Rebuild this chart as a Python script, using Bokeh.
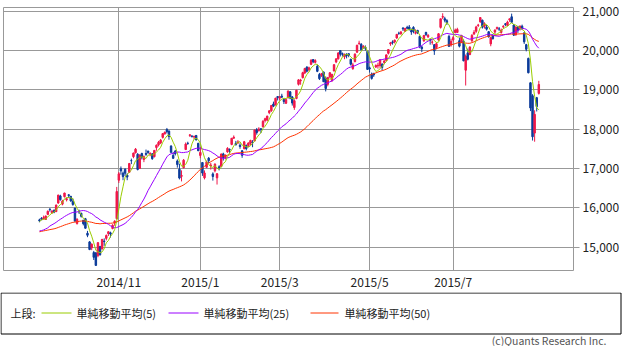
import numpy as np
import pandas as pd
from bokeh.plotting import figure
from bokeh.layouts import column, row
from bokeh.models import Range1d, FixedTicker, NumeralTickFormatter, ColumnDataSource
from bokeh.embed import file_html
from bokeh.resources import INLINE
from bokeh.core.properties import value

# ---------------- data: daily (open, high, low, close) ----------------
sep_2014 = [
    (15690, 15720, 15630, 15668), (15730, 15760, 15680, 15705), (15720, 15800, 15700, 15749),
    (15700, 15800, 15690, 15788), (15830, 15930, 15820, 15909), (15960, 15990, 15900, 15948),
    (15870, 15940, 15850, 15911), (15930, 15960, 15860, 15888), (15900, 16080, 15890, 16067),
    (16120, 16330, 16100, 16321), (16300, 16330, 16180, 16205), (16090, 16200, 16060, 16167),
    (16280, 16380, 16260, 16374), (16200, 16260, 16160, 16229), (16330, 16340, 16250, 16310),
    (16290, 16300, 16150, 16173),
]
oct_2014 = [
    (16160, 16230, 16050, 16082), (15990, 16000, 15640, 15661), (15600, 15730, 15570, 15708),
    (15900, 15950, 15840, 15890), (15860, 15870, 15750, 15783), (15680, 15690, 15550, 15595),
    (15720, 15740, 15470, 15478), (15350, 15410, 15250, 15300), (15130, 15150, 14920, 14936),
    (14980, 15090, 14920, 15073), (14860, 14900, 14670, 14738), (14850, 14870, 14530, 14532),
    (14780, 15120, 14740, 15111), (15010, 15030, 14780, 14804), (14950, 15200, 14940, 15195),
    (15150, 15220, 15030, 15138), (15220, 15320, 15170, 15291), (15340, 15400, 15280, 15388),
    (15360, 15390, 15240, 15329), (15470, 15580, 15450, 15553), (15610, 15680, 15540, 15658),
    (15720, 16530, 15700, 16413),
]
nov_2014 = [
    (16700, 16910, 16630, 16862), (16990, 17050, 16840, 16937), (16880, 16920, 16700, 16792),
    (16980, 17000, 16810, 16880), (16830, 16880, 16700, 16780), (16900, 17140, 16890, 17124),
    (17200, 17250, 17110, 17197), (17300, 17400, 17260, 17392), (17400, 17520, 17380, 17490),
    (17360, 17390, 16950, 16973), (17000, 17350, 16990, 17344), (17380, 17400, 17230, 17288),
    (17230, 17330, 17160, 17300), (17380, 17480, 17320, 17357), (17440, 17450, 17370, 17407),
    (17370, 17410, 17310, 17383), (17370, 17390, 17220, 17248), (17300, 17470, 17280, 17459),
]
dec_2014 = [
    (17530, 17610, 17450, 17590), (17600, 17700, 17560, 17663), (17650, 17750, 17620, 17720),
    (17790, 17900, 17760, 17887), (17880, 17940, 17860, 17920), (17990, 18030, 17890, 17935),
    (17950, 17970, 17730, 17813), (17570, 17590, 17390, 17412), (17330, 17420, 17250, 17257),
    (17440, 17470, 17330, 17371), (17190, 17230, 17020, 17099), (16980, 17120, 16720, 16755),
    (16800, 16950, 16670, 16819), (17020, 17240, 17000, 17210), (17480, 17660, 17470, 17621),
    (17640, 17680, 17600, 17635), (17840, 17870, 17800, 17854), (17820, 17850, 17790, 17808),
    (17800, 17830, 17750, 17818), (17840, 17850, 17710, 17729), (17640, 17650, 17440, 17451),
]
jan_2015 = [
    (17330, 17540, 17260, 17408), (17150, 17150, 16810, 16883), (16760, 16950, 16720, 16885),
    (17030, 17200, 17010, 17167), (17260, 17290, 17130, 17197), (17070, 17140, 16970, 17087),
    (16860, 16900, 16690, 16795), (16940, 17130, 16900, 17108), (16760, 16880, 16590, 16864),
    (17040, 17080, 16950, 17014), (17050, 17380, 17040, 17366), (17370, 17400, 17200, 17280),
    (17270, 17360, 17230, 17329), (17420, 17540, 17400, 17511), (17480, 17510, 17380, 17468),
    (17610, 17770, 17590, 17768), (17770, 17840, 17760, 17795), (17640, 17700, 17580, 17606),
    (17650, 17720, 17620, 17674),
]
feb_2015 = [
    (17590, 17640, 17500, 17558), (17450, 17460, 17270, 17335), (17500, 17700, 17490, 17678),
    (17580, 17610, 17460, 17504), (17580, 17660, 17540, 17648), (17640, 17730, 17590, 17711),
    (17660, 17720, 17540, 17652), (17700, 17990, 17690, 17979), (17990, 18030, 17860, 17913),
    (17960, 18050, 17940, 18004), (18010, 18020, 17900, 17987), (18060, 18230, 18040, 18199),
    (18220, 18290, 18170, 18264), (18230, 18340, 18200, 18332), (18420, 18480, 18380, 18466),
    (18470, 18610, 18440, 18603), (18640, 18700, 18560, 18585), (18620, 18800, 18600, 18785),
    (18830, 18840, 18730, 18797),
]
mar_2015 = [
    (18790, 18840, 18740, 18826), (18840, 18900, 18790, 18815), (18750, 18790, 18640, 18703),
    (18660, 18780, 18640, 18751), (18800, 18980, 18780, 18971), (18950, 18970, 18760, 18790),
    (18820, 18840, 18600, 18665), (18550, 18760, 18490, 18723), (18780, 19000, 18760, 18991),
    (19140, 19270, 19110, 19254), (19230, 19280, 19130, 19246), (19310, 19460, 19290, 19437),
    (19430, 19560, 19400, 19544), (19580, 19600, 19440, 19476), (19510, 19590, 19470, 19560),
    (19650, 19780, 19630, 19754), (19770, 19780, 19680, 19713), (19700, 19780, 19670, 19746),
    (19600, 19640, 19450, 19471), (19390, 19430, 19250, 19285), (19370, 19430, 19330, 19411),
    (19450, 19470, 19200, 19206),
]
apr_2015 = [
    (19300, 19340, 18960, 19034), (19140, 19330, 19090, 19312), (19330, 19450, 19300, 19435),
    (19240, 19400, 19200, 19397), (19480, 19650, 19470, 19640), (19710, 19800, 19680, 19789),
    (19790, 19960, 19770, 19937), (20000, 20010, 19850, 19907), (19920, 19950, 19850, 19905),
    (19840, 19920, 19780, 19908), (19910, 19930, 19800, 19869), (19920, 19930, 19830, 19885),
    (19780, 19790, 19620, 19652), (19540, 19690, 19510, 19634), (19720, 19930, 19700, 19909),
    (19960, 20150, 19940, 20133), (20180, 20250, 20140, 20187), (20160, 20190, 20000, 20020),
    (20080, 20140, 20040, 20107), (20080, 20130, 20000, 20058), (19980, 19990, 19510, 19520),
]
may_2015 = [
    (19560, 19590, 19440, 19531), (19400, 19440, 19260, 19291), (19420, 19430, 19330, 19379),
    (19580, 19650, 19560, 19620), (19610, 19690, 19540, 19624), (19620, 19780, 19560, 19764),
    (19650, 19680, 19500, 19570), (19700, 19770, 19650, 19732), (19750, 19900, 19730, 19890),
    (19930, 20040, 19900, 20026), (20170, 20220, 20120, 20196), (20220, 20260, 20150, 20202),
    (20220, 20280, 20180, 20264), (20320, 20420, 20300, 20413), (20440, 20480, 20400, 20437),
    (20430, 20500, 20400, 20472), (20570, 20600, 20500, 20551), (20490, 20580, 20480, 20563),
]
jun_2015 = [
    (20590, 20630, 20540, 20569), (20600, 20650, 20510, 20543), (20510, 20560, 20400, 20473),
    (20590, 20620, 20440, 20488), (20440, 20540, 20410, 20460), (20510, 20530, 20420, 20457),
    (20360, 20380, 20060, 20096), (20090, 20120, 19960, 20046), (20250, 20400, 20220, 20382),
    (20460, 20480, 20370, 20407), (20350, 20420, 20320, 20387), (20290, 20300, 20150, 20257),
    (20210, 20260, 20150, 20219), (20150, 20160, 19890, 19990), (20080, 20210, 20030, 20174),
    (20270, 20440, 20250, 20428), (20590, 20810, 20560, 20809), (20850, 20950, 20800, 20868),
    (20810, 20860, 20720, 20771), (20760, 20800, 20650, 20706), (20360, 20400, 20090, 20109),
    (20140, 20300, 20100, 20235),
]
jul_2015 = [
    (20270, 20370, 20230, 20329), (20460, 20560, 20440, 20522), (20460, 20580, 20450, 20539),
    (20250, 20330, 20080, 20112), (20220, 20400, 20190, 20376), (20230, 20280, 19730, 19737),
    (19500, 19900, 19110, 19855), (19940, 20050, 19750, 19779), (19900, 20110, 19880, 20089),
    (20250, 20420, 20220, 20385), (20420, 20520, 20400, 20463), (20490, 20630, 20450, 20600),
    (20640, 20680, 20600, 20650), (20730, 20850, 20710, 20841), (20770, 20790, 20560, 20593),
    (20620, 20720, 20560, 20683), (20600, 20650, 20510, 20544), (20480, 20490, 20330, 20350),
    (20170, 20340, 20110, 20328), (20380, 20420, 20280, 20302), (20470, 20540, 20410, 20522),
    (20560, 20610, 20530, 20585),
]
aug_2015 = [
    (20550, 20600, 20500, 20548), (20460, 20560, 20430, 20520), (20600, 20650, 20560, 20614),
    (20680, 20700, 20620, 20664), (20640, 20760, 20630, 20724), (20780, 20810, 20730, 20808),
    (20860, 20940, 20700, 20720), (20650, 20680, 20370, 20392), (20400, 20620, 20380, 20595),
    (20600, 20630, 20450, 20519), (20560, 20640, 20510, 20620), (20620, 20660, 20530, 20554),
    (20450, 20470, 20170, 20222), (20150, 20170, 19980, 20033), (19800, 19820, 19420, 19435),
    (19180, 19190, 18460, 18540), (18850, 18890, 17710, 17806), (17900, 18480, 17680, 18376),
    (18800, 18820, 18450, 18574), (18910, 19230, 18880, 19136),
]
# closes before the first visible day (needed by the moving averages)
pre_close = [
    15095, 15162,
    15326, 15369, 15348, 15437, 15379, 15314, 15302, 15216, 15164, 15297, 15395,
    15379, 15370, 15215, 15343, 15328, 15284, 15457, 15529, 15618, 15646, 15621,
    15523, 15474, 15320, 15160, 15232, 14778, 15130, 15161, 15213, 15314, 15318,
    15322, 15450, 15454, 15586, 15539, 15613, 15521, 15535, 15460, 15425,
    15476, 15669, 15729, 15677,
]
month_labels = ["2014/9", "2014/10", "2014/11", "2014/12", "2015/1", "2015/2",
                "2015/3", "2015/4", "2015/5", "2015/6", "2015/7", "2015/8"]
month_blocks = [sep_2014, oct_2014, nov_2014, dec_2014, jan_2015, feb_2015,
                mar_2015, apr_2015, may_2015, jun_2015, jul_2015, aug_2015]
tick_months = ["2014/11", "2015/1", "2015/3", "2015/5", "2015/7"]
tick_texts = ["2014/11", "2015/1", "2015/3", "2015/5", "2015/7"]
y_ticks = [15000, 16000, 17000, 18000, 19000, 20000, 21000]
ma_periods = [5, 25, 50]
ma_names = ["単純移動平均(5)", "単純移動平均(25)", "単純移動平均(50)"]
legend_head = "上段:"
copyright_text = "(c)Quants Research Inc."

# ---------------- build ----------------
rows = [r for blk in month_blocks for r in blk]
arr = np.array(rows, dtype=float)
o, h, l, c = arr[:, 0], arr[:, 1], arr[:, 2], arr[:, 3]
n = len(rows)
x = np.arange(n)

starts = np.cumsum([0] + [len(b) for b in month_blocks[:-1]])
month_start = dict(zip(month_labels, starts))
tick_pos = [int(month_start[m]) for m in tick_months]

RED = "#f0184a"
BLUE = "#0c3c9a"
colors = [RED if cc >= oo else BLUE for oo, cc in zip(o, c)]

all_close = pd.Series(list(pre_close) + list(c))
smas = {p_: all_close.rolling(p_).mean().to_numpy()[-n:] for p_ in ma_periods}
ma_colors = {5: "#99cc00", 25: "#9900ff", 50: "#ff3300"}

FONT = "Noto Sans CJK JP"
GRID = "#999999"
TXT = "#222222"
W = 622
H1, H2 = 292, 54

p = figure(width=W, height=H1,
           x_range=Range1d(-17.2, 255.6), y_range=Range1d(14402, 21096),
           y_axis_location="right", output_backend="svg", toolbar_location=None,
           min_border_left=3, min_border_top=7, min_border_right=48, min_border_bottom=16,
           outline_line_color=GRID, outline_line_width=1,
           background_fill_color="white", border_fill_color="white")

p.xaxis.ticker = FixedTicker(ticks=tick_pos)
p.xaxis.major_label_overrides = {tp: tt for tp, tt in zip(tick_pos, tick_texts)}
p.xaxis.axis_line_color = None
p.xaxis.major_tick_in = 0
p.xaxis.major_tick_out = 0
p.xaxis.minor_tick_line_color = None
p.xaxis.major_label_standoff = 2
p.xaxis.major_label_text_font = FONT
p.xaxis.major_label_text_font_size = "12px"
p.xaxis.major_label_text_color = TXT

p.yaxis.ticker = FixedTicker(ticks=y_ticks)
p.yaxis.formatter = NumeralTickFormatter(format="0,0")
p.yaxis.axis_line_color = None
p.yaxis.major_tick_in = 0
p.yaxis.major_tick_out = 6
p.yaxis.major_tick_line_color = GRID
p.yaxis.minor_tick_line_color = None
p.yaxis.major_label_standoff = 3
p.yaxis.major_label_text_font = FONT
p.yaxis.major_label_text_font_size = "12px"
p.yaxis.major_label_text_color = TXT

p.xgrid.ticker = FixedTicker(ticks=tick_pos)
p.xgrid.grid_line_color = GRID
p.ygrid.ticker = FixedTicker(ticks=y_ticks)
p.ygrid.grid_line_color = GRID

src = ColumnDataSource(dict(x=x, h=h, l=l, top=np.maximum(o, c), bottom=np.minimum(o, c),
                            color=colors))
p.segment(x0="x", y0="h", x1="x", y1="l", line_color="color", line_width=1, source=src)
p.vbar(x="x", width=0.7, top="top", bottom="bottom", fill_color="color",
       line_color="color", line_width=1, source=src)

for per in sorted(ma_periods, reverse=True):
    p.line(x, smas[per], line_color=ma_colors[per], line_width=1)

# ---------------- legend + copyright panel (pixel-like ranges) ----------------
q = figure(width=W, height=H2, x_range=Range1d(0, W), y_range=Range1d(0, H2),
           x_axis_type=None, y_axis_type=None, output_backend="svg", toolbar_location=None,
           min_border=0, min_border_left=0, min_border_right=0,
           min_border_top=0, min_border_bottom=0, outline_line_color=None,
           background_fill_color="white", border_fill_color="white")
q.grid.visible = False


def yy(cy):
    # vertical position counted from the top of this panel
    return H2 - cy


q.quad(left=[0.5], right=[W - 1.5], bottom=[yy(41.5)], top=[yy(0.5)], fill_color=None,
       line_color="black", line_width=1)
row_y = yy(20.5)
q.text(x=[10], y=[row_y], text=[legend_head], text_font=value(FONT), text_font_size="11px",
       text_baseline="middle", text_color=TXT)
seg_x = [41, 168, 310]
seg_len = [30, 30, 28]
txt_x = [76, 203, 344]
for i, per in enumerate(ma_periods):
    q.segment(x0=[seg_x[i]], y0=[row_y], x1=[seg_x[i] + seg_len[i]], y1=[row_y],
              line_color=ma_colors[per], line_width=1)
    q.text(x=[txt_x[i]], y=[row_y], text=[ma_names[i]], text_font=value(FONT),
           text_font_size="11px", text_baseline="middle", text_color=TXT)
q.text(x=[606], y=[yy(47.5)], text=[copyright_text], text_font=value(FONT),
       text_font_size="10.5px", text_baseline="middle", text_align="right",
       text_color="#555555")

layout = column(p, row(q), spacing=0)
open("out.html", "w").write(file_html(layout, INLINE))
